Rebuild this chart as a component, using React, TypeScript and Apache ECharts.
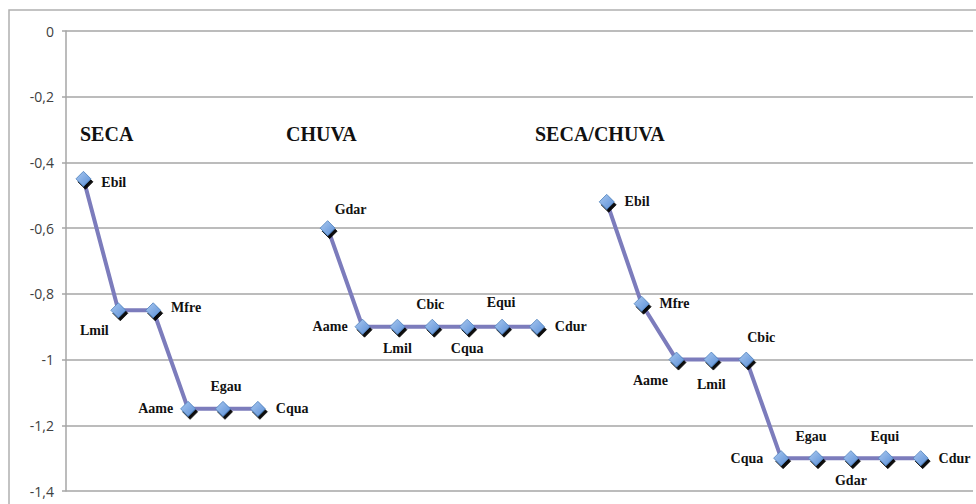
import React, { useEffect, useRef } from "react";
import * as echarts from "echarts";

// ---- data ----
const groupTitles = ["SECA", "CHUVA", "SECA/CHUVA"];
const secaNames = ["Ebil", "Lmil", "Mfre", "Aame", "Egau", "Cqua"];
const secaValues = [-0.45, -0.85, -0.85, -1.15, -1.15, -1.15];
const chuvaNames = ["Gdar", "Aame", "Lmil", "Cbic", "Cqua", "Equi", "Cdur"];
const chuvaValues = [-0.6, -0.9, -0.9, -0.9, -0.9, -0.9, -0.9];
const secaChuvaNames = ["Ebil", "Mfre", "Aame", "Lmil", "Cbic", "Cqua", "Egau", "Gdar", "Equi", "Cdur"];
const secaChuvaValues = [-0.52, -0.83, -1.0, -1.0, -1.0, -1.3, -1.3, -1.3, -1.3, -1.3];
const yTicks = [0, -0.2, -0.4, -0.6, -0.8, -1, -1.2, -1.4];

// ---- label placement (style) ----
type Place = { position: string; offset?: [number, number] };
const secaPlace: Place[] = [
  { position: "right", offset: [0, 4] },
  { position: "bottom", offset: [-24, -2] },
  { position: "right", offset: [0, -3] },
  { position: "left" },
  { position: "top", offset: [3, 0] },
  { position: "right" },
];
const chuvaPlace: Place[] = [
  { position: "top", offset: [23, 3] },
  { position: "left" },
  { position: "bottom" },
  { position: "top", offset: [-2, 0] },
  { position: "bottom" },
  { position: "top", offset: [-1, -2] },
  { position: "right" },
];
const secaChuvaPlace: Place[] = [
  { position: "right" },
  { position: "right" },
  { position: "bottom", offset: [-26, -1] },
  { position: "bottom", offset: [0, 3] },
  { position: "top", offset: [15, 0] },
  { position: "left", offset: [-3, 0] },
  { position: "top", offset: [-5, 0] },
  { position: "bottom" },
  { position: "top", offset: [-1, 0] },
  { position: "right" },
];

const groups = [
  { names: secaNames, values: secaValues, place: secaPlace },
  { names: chuvaNames, values: chuvaValues, place: chuvaPlace },
  { names: secaChuvaNames, values: secaChuvaValues, place: secaChuvaPlace },
];

const LINE = "#7c7cbc";
const SERIF = "'Liberation Serif', 'Times New Roman', serif";

export default function App() {
  const ref = useRef<HTMLDivElement>(null);
  useEffect(() => {
    if (!ref.current) return;
    const chart = echarts.init(ref.current, undefined, { renderer: "svg" });

    let slot = 0;
    const series: any[] = [];
    groups.forEach((g, gi) => {
      const data = g.values.map((v, i) => {
        const p = g.place[i];
        return {
          value: [slot + i, v],
          name: g.names[i],
          label: {
            position: p.position,
            offset: p.offset || [0, 0],
            distance: p.position === "right" ? 10 : 7,
          },
        };
      });
      slot += g.values.length + 1;
      series.push({
        type: "line",
        name: groupTitles[gi],
        data,
        symbol: "diamond",
        symbolSize: 15,
        lineStyle: { color: LINE, width: 4 },
        itemStyle: {
          color: new echarts.graphic.LinearGradient(0, 0, 1, 1, [
            { offset: 0, color: "#a9c8f0" },
            { offset: 1, color: "#5b8fd6" },
          ]),
          borderColor: "#4f81bd",
          borderWidth: 0.8,
          shadowColor: "rgba(0,0,0,0.95)",
          shadowOffsetX: 2,
          shadowOffsetY: 3,
          shadowBlur: 0,
        },
        label: {
          show: true,
          formatter: (p: any) => p.name,
          fontFamily: SERIF,
          fontWeight: "bold",
          fontSize: 14,
          color: "#111",
        },
        z: 3,
      });
    });

    const titleX = [80, 286, 535];
    chart.setOption({
      animation: false,
      backgroundColor: "#ffffff",
      grid: { left: 66, right: 3, top: 31, bottom: 13 },
      xAxis: {
        type: "value",
        min: -0.5,
        max: slot - 0.5,
        show: false,
      },
      yAxis: {
        type: "value",
        min: yTicks[yTicks.length - 1],
        max: yTicks[0],
        interval: 0.2,
        axisLine: { show: true, onZero: false, lineStyle: { color: "#a6a6a6", width: 1.5 } },
        axisTick: { show: true, length: 4, lineStyle: { color: "#a6a6a6", width: 1.5 } },
        axisLabel: {
          margin: 12,
          fontFamily: "'Open Sans', 'Liberation Sans', sans-serif",
          fontSize: 14,
          color: "#404040",
          formatter: (v: number) => String(Math.round(v * 10) / 10).replace(".", ","),
        },
        splitLine: { show: true, lineStyle: { color: "#a6a6a6", width: 1.5 } },
      },
      graphic: [
        {
          type: "rect",
          shape: { x: 9, y: 10, width: 1000, height: 520 },
          style: { fill: "none", stroke: "#b0b0b0", lineWidth: 1.5 },
          silent: true,
          z: -1,
        },
        ...groupTitles.map((t, i) => ({
          type: "text",
          x: titleX[i],
          y: 134,
          style: {
            text: t,
            font: `bold 20px ${SERIF}`,
            fill: "#111",
            verticalAlign: "middle",
          },
        })),
      ],
      series,
    });
    return () => chart.dispose();
  }, []);
  return <div ref={ref} style={{ position: "fixed", left: 0, top: 0, width: 976, height: 504 }} />;
}
